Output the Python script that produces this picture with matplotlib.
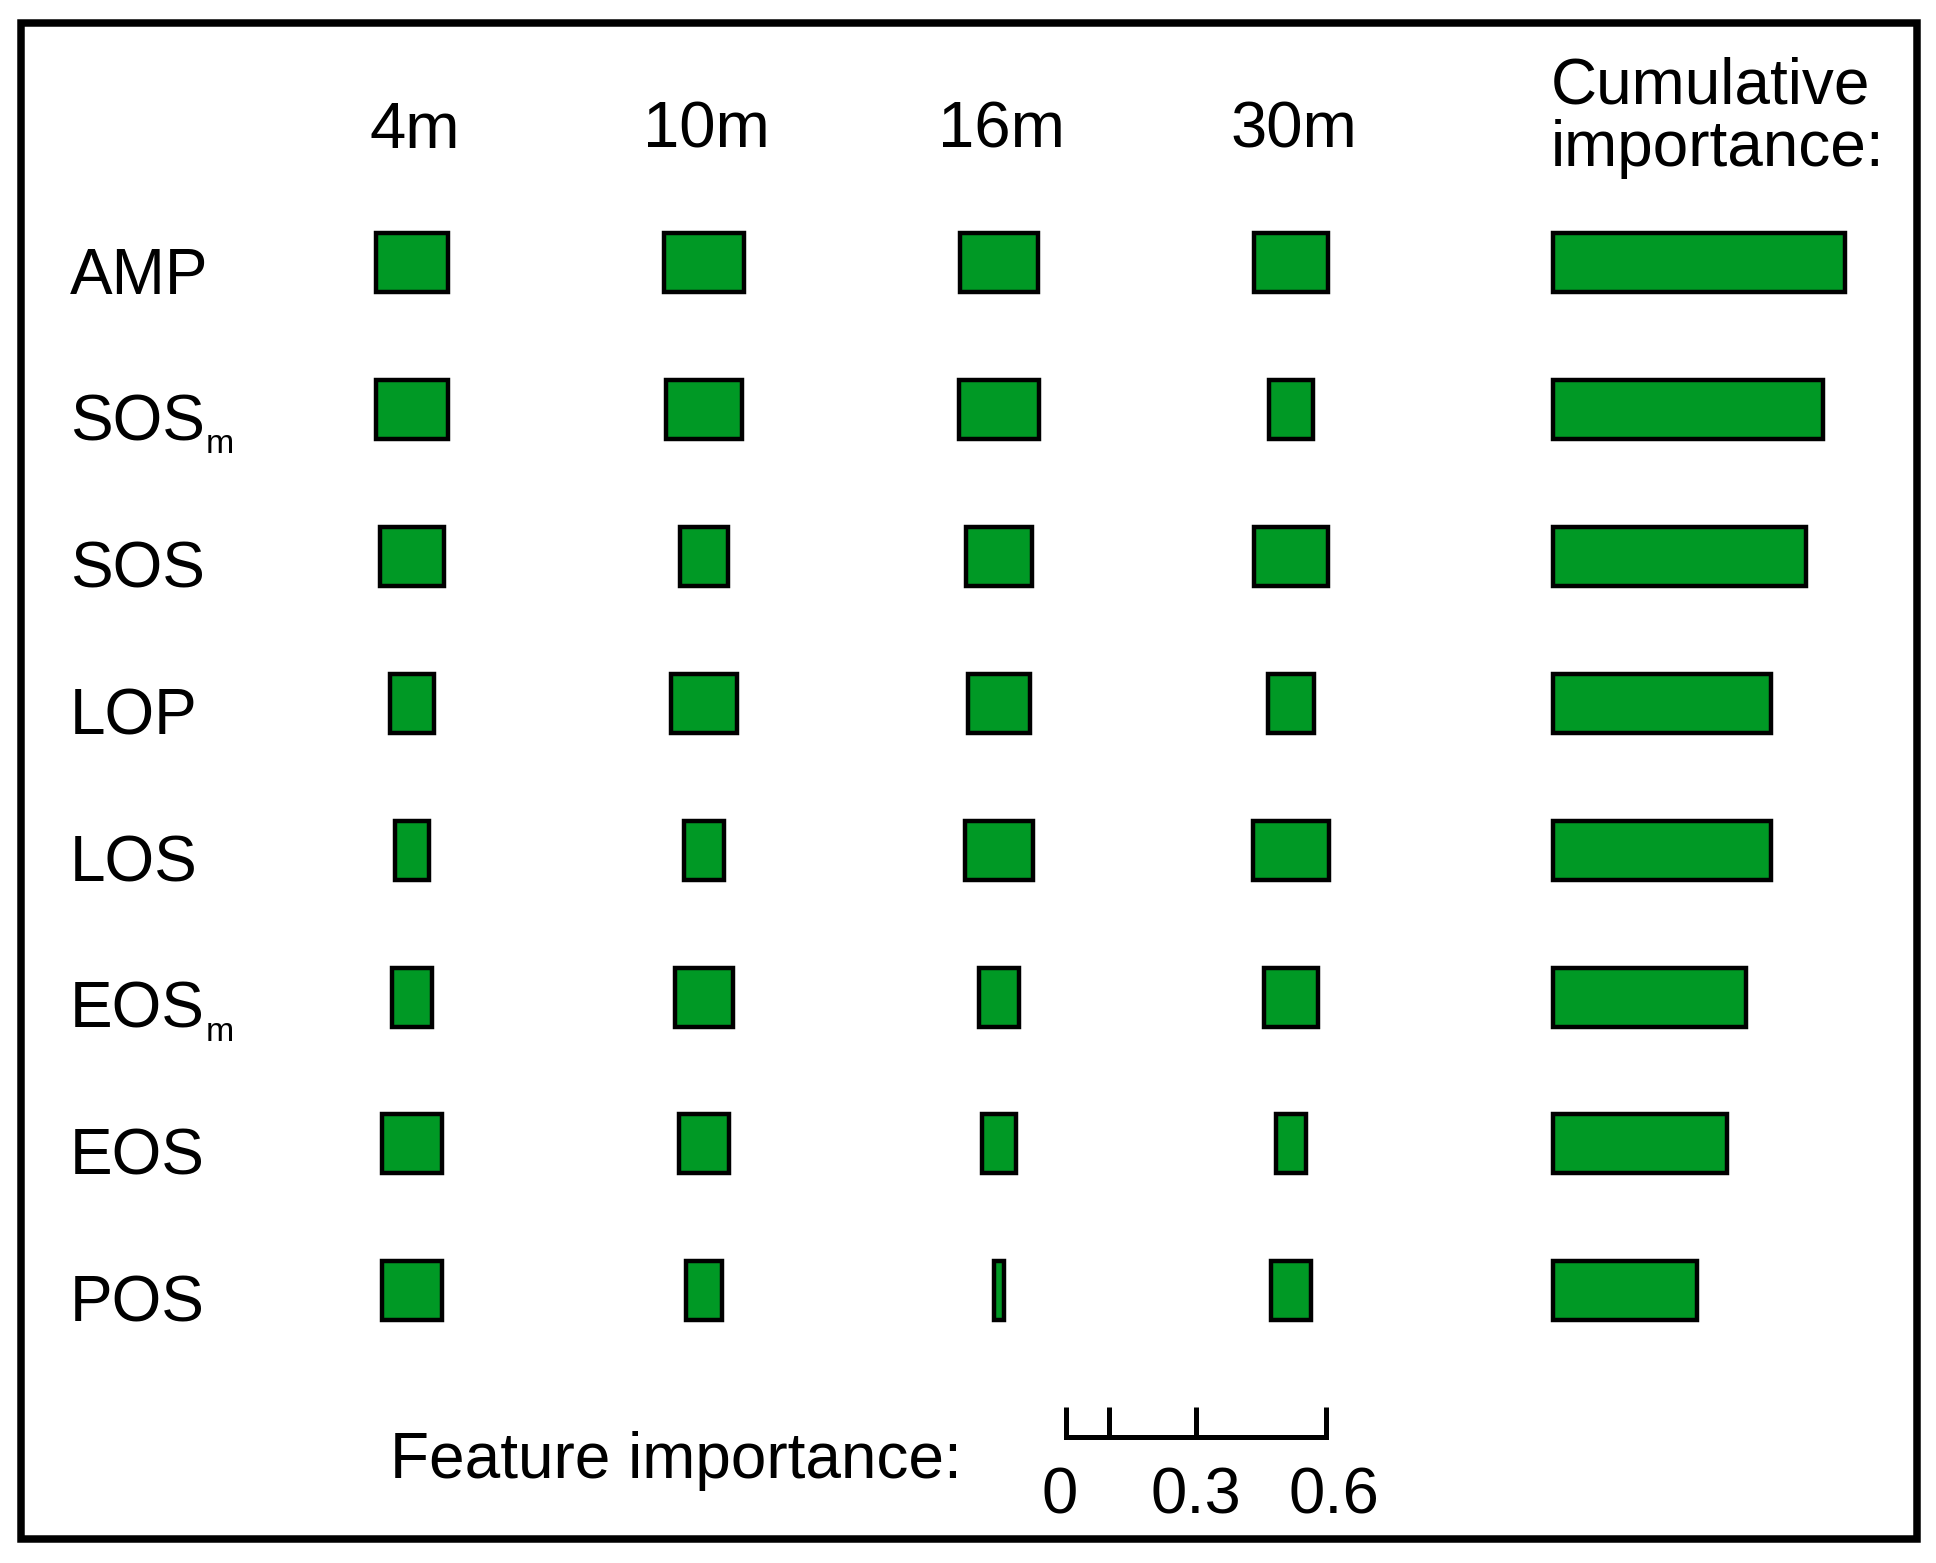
import matplotlib
matplotlib.use('Agg')
import matplotlib.pyplot as plt
from matplotlib.patches import Rectangle
import numpy as np

plt.rcParams['font.family'] = ['Liberation Sans', 'DejaVu Sans']

# ---------------- data ----------------
features = ['AMP', 'SOS', 'SOS', 'LOP', 'LOS', 'EOS', 'EOS', 'POS']
subscripts = ['', 'm', '', '', '', 'm', '', '']
windows = ['4m', '10m', '16m', '30m']
imp_4m = [0.165, 0.165, 0.147, 0.101, 0.079, 0.094, 0.138, 0.138]
imp_10m = [0.183, 0.175, 0.110, 0.153, 0.092, 0.136, 0.116, 0.085]
imp_16m = [0.179, 0.186, 0.154, 0.145, 0.159, 0.092, 0.078, 0.023]
imp_30m = [0.170, 0.100, 0.173, 0.107, 0.176, 0.123, 0.070, 0.094]
cumulative = [0.674, 0.624, 0.583, 0.503, 0.503, 0.445, 0.402, 0.333]
scale_ticks = [0, 0.1, 0.3, 0.6]
scale_label_values = [0, 0.3, 0.6]
scale_labels = ['0', '0.3', '0.6']

# ---------------- layout ----------------
W, H = 1936, 1563
PX = 433.3                      # pixels per unit of importance
GREEN = '#009925'
FS = 46

fig = plt.figure(figsize=(W / 100, H / 100), dpi=100)
ax = fig.add_axes([0, 0, 1, 1])
ax.set_xlim(0, W / PX)
ax.set_ylim(H, 0)
ax.axis('off')

row_y = 262.5 + 146.9 * np.arange(len(features))
col_centers_px = [412, 704, 999, 1291]
bar_h = 59
bar_lw = 3.2

for cx, vals in zip(col_centers_px, [imp_4m, imp_10m, imp_16m, imp_30m]):
    v = np.asarray(vals)
    ax.barh(row_y, v, left=cx / PX - v / 2, height=bar_h, color=GREEN,
            edgecolor='black', linewidth=bar_lw)

ax.barh(row_y, cumulative, left=1553 / PX, height=bar_h, color=GREEN,
        edgecolor='black', linewidth=bar_lw)

# column headers
for cx, w in zip(col_centers_px, windows):
    ax.text(cx / PX + 0.006, 148, w, ha='center', va='baseline', fontsize=FS + 1)

ax.text(1551 / PX, 104, 'Cumulative', ha='left', va='baseline', fontsize=FS)
ax.text(1551 / PX, 166, 'importance:', ha='left', va='baseline', fontsize=FS)

# row labels
for y, name, sub in zip(row_y, features, subscripts):
    t = ax.text(70 / PX, y + 31, name, ha='left', va='baseline', fontsize=FS)
    if sub:
        ax.annotate(sub, xy=(1, 0), xycoords=t, xytext=(0.5, 0),
                    textcoords='offset points', ha='left', va='baseline',
                    fontsize=FS * 0.53)

# scale bar
x0 = 1066 / PX
y_line, y_top = 1437, 1407
lw_scale = 3.6
ax.plot([x0 + scale_ticks[0], x0 + scale_ticks[0], x0 + scale_ticks[-1], x0 + scale_ticks[-1]],
        [y_top, y_line, y_line, y_top], color='black', lw=lw_scale,
        solid_joinstyle='miter', solid_capstyle='butt')
for t in scale_ticks[1:-1]:
    ax.plot([x0 + t, x0 + t], [y_top, y_line], color='black', lw=lw_scale,
            solid_capstyle='butt')
label_dx_px = [-6, 0, 8]
for v, lab, dx in zip(scale_label_values, scale_labels, label_dx_px):
    ax.text(x0 + v + dx / PX, 1513, lab, ha='center', va='baseline', fontsize=FS + 1)

ax.text(390 / PX, 1478, 'Feature importance:', ha='left', va='baseline', fontsize=FS)

# outer frame
fig.patches.append(Rectangle((21 / W, 1 - 1538.5 / H), (1917 - 21) / W, (1538.5 - 22.5) / H,
                             transform=fig.transFigure, fill=False,
                             edgecolor='black', linewidth=5.4))

fig.savefig('out.png', dpi=100, facecolor='white')
